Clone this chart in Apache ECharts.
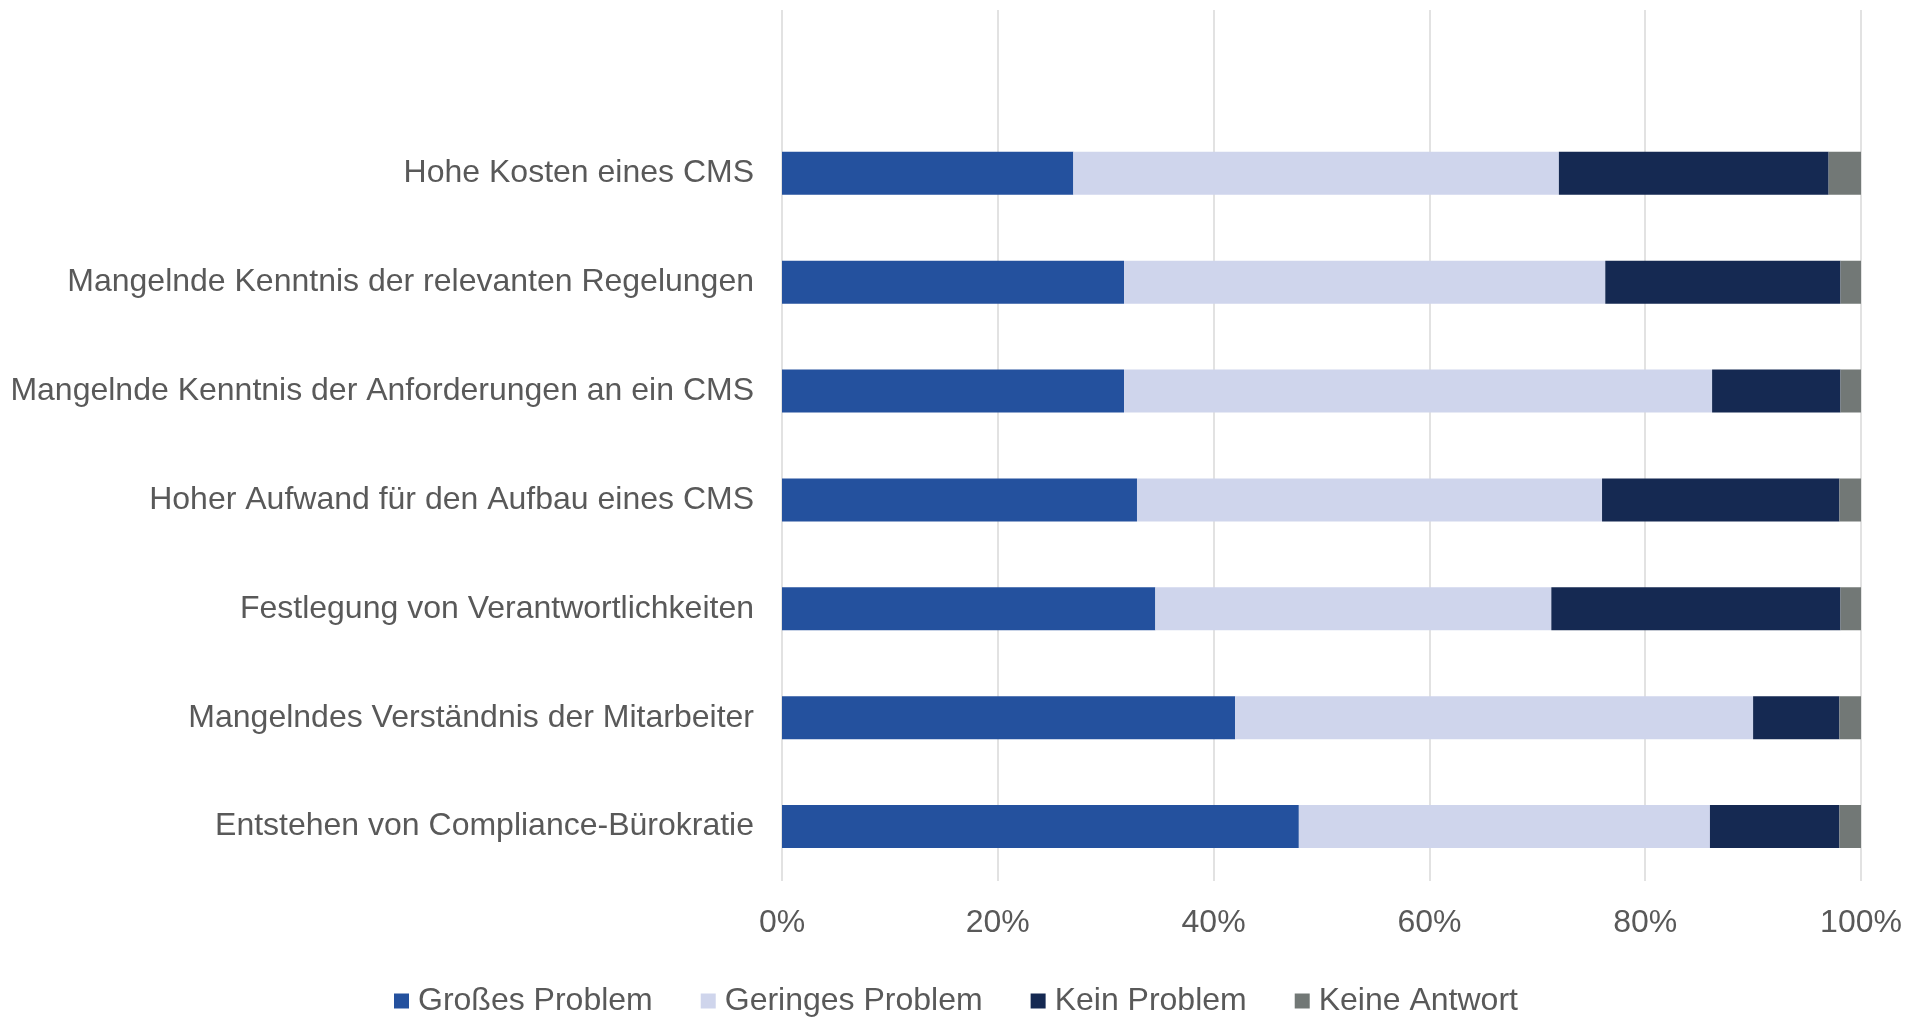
<!DOCTYPE html>
<html>
<head>
<meta charset="utf-8">
<script src="https://cdn.jsdelivr.net/npm/echarts@6/dist/echarts.min.js"></script>
<style>
  html, body { margin: 0; padding: 0; background: #fff; }
  #chart { width: 1924px; height: 1018px; }
</style>
</head>
<body>
<div id="chart"></div>
<script>
// Categories top to bottom (axis is inverted so the first one sits on top).
const categories = [
  "Hohe Kosten eines CMS",
  "Mangelnde Kenntnis der relevanten Regelungen",
  "Mangelnde Kenntnis der Anforderungen an ein CMS",
  "Hoher Aufwand für den Aufbau eines CMS",
  "Festlegung von Verantwortlichkeiten",
  "Mangelndes Verständnis der Mitarbeiter",
  "Entstehen von Compliance-Bürokratie",
];

// Shares in percent, same order as categories.
const grosses = [27, 31.7, 31.7, 32.9, 34.6, 42, 47.9];
const geringes = [45, 44.6, 54.5, 43.1, 36.7, 48, 38.1];
const kein = [25, 21.8, 11.9, 22, 26.8, 8, 12];
const keineAntwort = [3, 1.9, 1.9, 2, 1.9, 2, 2];

const seriesNames = ["Großes Problem", "Geringes Problem", "Kein Problem", "Keine Antwort"];
const xTicks = [0, 20, 40, 60, 80, 100];

const COLORS = ["#24519e", "#cfd5ec", "#152952", "#727876"];
const FONT = "Liberation Sans, Arial, sans-serif";
const TEXT = "#595959";

// Excel left an empty slot above the first bar; keep it as a blank category.
const yData = [""].concat(categories);
const pad = (arr) => [null].concat(arr);

const chart = echarts.init(document.getElementById("chart"), null, { renderer: "canvas" });

chart.setOption({
  animation: false,
  textStyle: { fontFamily: FONT },
  grid: { left: 782, right: 63, top: 10, bottom: 137, containLabel: false },
  xAxis: {
    type: "value",
    min: xTicks[0],
    max: xTicks[xTicks.length - 1],
    interval: 20,
    axisLine: { show: false },
    axisTick: { show: false },
    splitLine: { show: true, lineStyle: { color: "#d9d9d9", width: 1.5 } },
    axisLabel: {
      formatter: (v) => v + "%",
      color: TEXT,
      fontSize: 32,
      fontFamily: FONT,
      margin: 26,
    },
  },
  yAxis: {
    type: "category",
    inverse: true,
    data: yData,
    axisLine: { show: false },
    axisTick: { show: false },
    splitLine: { show: false },
    axisLabel: { color: TEXT, fontSize: 32, fontFamily: FONT, margin: 28 },
  },
  legend: {
    bottom: -4,
    left: 389,
    itemWidth: 15,
    itemHeight: 15,
    itemGap: 48,
    icon: "rect",
    textStyle: { color: TEXT, fontSize: 32, fontFamily: FONT, padding: [0, 0, 0, 4] },
    data: seriesNames,
  },
  series: [grosses, geringes, kein, keineAntwort].map((vals, i) => ({
    name: seriesNames[i],
    type: "bar",
    stack: "total",
    barWidth: 43,
    itemStyle: { color: COLORS[i] },
    data: pad(vals),
  })),
});
</script>
</body>
</html>
